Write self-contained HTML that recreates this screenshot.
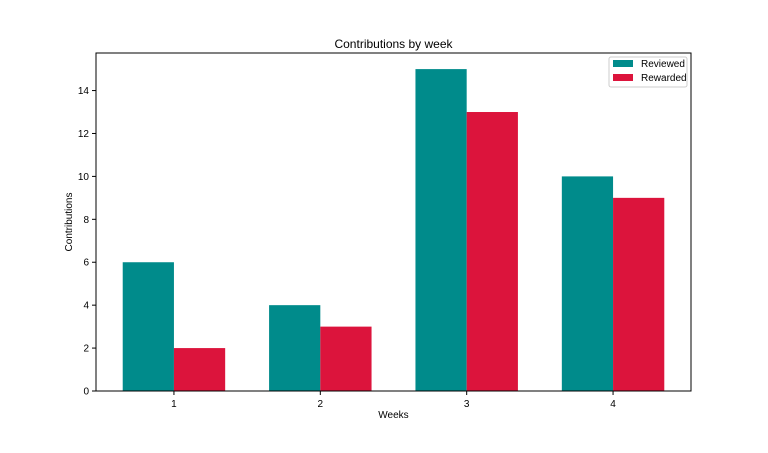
<!DOCTYPE html>
<html><head><meta charset="utf-8"><style>
body{margin:0;background:#fff;font-family:"Liberation Sans","DejaVu Sans",sans-serif;}
svg text{font-family:"Liberation Sans","DejaVu Sans",sans-serif;fill:#000;}
</style></head><body>
<svg id="chart" width="768" height="448" xmlns="http://www.w3.org/2000/svg">
<rect width="768" height="448" fill="#fff"/>
<g id="bars"></g>
<g id="axes"></g>
<text x="393.5" y="48" font-size="12" text-anchor="middle">Contributions by week</text>
<text x="393.5" y="418" font-size="10" text-anchor="middle">Weeks</text>
<text transform="translate(72,222) rotate(-90)" font-size="10" text-anchor="middle">Contributions</text>
<g>
<rect x="609" y="57" width="78" height="30" fill="#fff" stroke="#ccc" rx="2"/>
<rect x="613" y="60" width="20" height="7" fill="#008b8b"/>
<text x="641" y="67" font-size="10">Reviewed</text>
<rect x="613" y="74" width="20" height="7" fill="#dc143c"/>
<text x="641" y="81" font-size="10">Rewarded</text>
</g>
</svg>
<script>
const categories = [1, 2, 3, 4];
const reviewed = [6, 4, 15, 10];
const rewarded = [2, 3, 13, 9];
const yTicks = [0, 2, 4, 6, 8, 10, 12, 14];

const L=96,R=691,T=53,B=391;
const barW=0.35;
const xMin=1-barW-0.1825, xMax=4+barW+0.1825;
const yMax=Math.max(...reviewed,...rewarded)*1.05;
const xs=v=>L+(v-xMin)/(xMax-xMin)*(R-L);
const ys=v=>B-v/yMax*(B-T);
const NS="http://www.w3.org/2000/svg";
function mk(tag,attrs,parent){const e=document.createElementNS(NS,tag);for(const k in attrs)e.setAttribute(k,attrs[k]);parent.appendChild(e);return e;}
const bars=document.getElementById('bars'), axes=document.getElementById('axes');
categories.forEach((c,i)=>{
  const r1=mk('rect',{x:xs(c-barW),y:ys(reviewed[i]),width:xs(c)-xs(c-barW),height:B-ys(reviewed[i]),fill:'#008b8b'},bars);
  
  
  const r2=mk('rect',{x:xs(c),y:ys(rewarded[i]),width:xs(c+barW)-xs(c),height:B-ys(rewarded[i]),fill:'#dc143c'},bars);
  
  
  mk('line',{x1:xs(c),x2:xs(c),y1:B,y2:B+4,stroke:'#000'},axes);
  const t=mk('text',{x:xs(c),y:B+16,'font-size':10,'text-anchor':'middle'},axes);
  t.textContent=c;
  
  
});
yTicks.forEach(v=>{
  mk('line',{x1:L-4,x2:L,y1:ys(v),y2:ys(v),stroke:'#000'},axes);
  const t=mk('text',{x:L-7,y:ys(v)+3.5,'font-size':10,'text-anchor':'end'},axes);
  t.textContent=v;
  
  
});
const f=mk('rect',{x:L,y:T,width:R-L,height:B-T,fill:'none',stroke:'#000','stroke-width':1},axes);


</script>
</body></html>
